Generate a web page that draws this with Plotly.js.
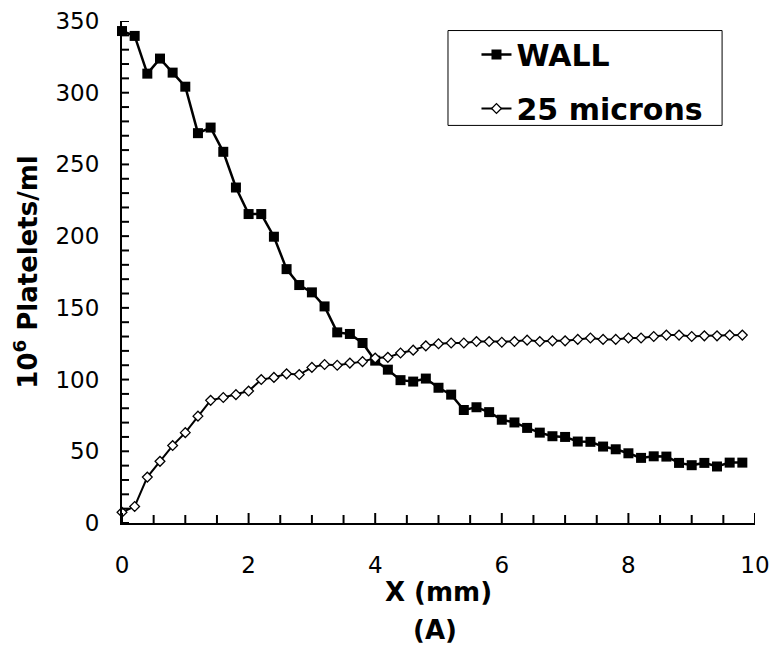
<!DOCTYPE html>
<html>
<head>
<meta charset="utf-8">
<script src="https://cdn.plot.ly/plotly-3.0.1.min.js"></script>
<style>html,body{margin:0;padding:0;background:#fff;}#chart{width:769px;height:646px;}</style>
</head>
<body>
<div id="chart"></div>
<script>
const xPositions = [0,0.2,0.4,0.6,0.8,1.0,1.2,1.4,1.6,1.8,2.0,2.2,2.4,2.6,2.8,3.0,3.2,3.4,3.6,3.8,4.0,4.2,4.4,4.6,4.8,5.0,5.2,5.4,5.6,5.8,6.0,6.2,6.4,6.6,6.8,7.0,7.2,7.4,7.6,7.8,8.0,8.2,8.4,8.6,8.8,9.0,9.2,9.4,9.6,9.8];
const wallValues = [343,339.6,313.3,323.8,314,304.2,271.8,275.7,258.8,233.9,215.4,215.4,199.6,177,165.9,160.8,151,132.9,131.8,125.5,113.2,106.9,99.6,98.6,100.7,94.3,89.5,78.8,80.7,77.3,72,70.1,66.3,63,60.5,60,56.8,56.6,53.3,51.4,48.6,45.4,46.5,46.3,41.9,40.3,41.9,39.4,42.1,42.1];
const micron25Values = [7.5,11.5,32,43,54,63,74.5,85.5,87.5,89.5,92,100,101.5,104,103.5,108.5,110.5,110,111.5,112.5,115,115.5,118.5,120.5,123.5,125,125.5,125.5,126.5,126.5,126,126.5,127.5,126.5,127,127,128,129,128,128,129,129,130,131,131,130,130.5,130.5,131,131];
const seriesNames = ["WALL", "25 microns"];
const xTitle = "X (mm)";
const yTitle = "10<sup>6</sup> Platelets/ml";
const panelLabel = "(A)";
const xRange = [0, 10];
const yRange = [0, 350];

const FONT = "DejaVu Sans, Liberation Sans, Arial, sans-serif";

const W = 769, H = 646, ML = 122, MR = 14, MT = 21, MB = 123;
const plotW = W - ML - MR, plotH = H - MT - MB;

// inside tick marks (axis decoration), every 0.5 on x (longer at labelled ticks) and every 10 on y
const tickShapes = [];
for (let i = 0; i <= 20; i++) {
  const v = i * 0.5;
  const len = (i % 4 === 0) ? 10 : 8;
  tickShapes.push({type: "line", xref: "x", yref: "paper", x0: v, x1: v, y0: 0, y1: len / plotH,
    line: {color: "#000", width: 2}, layer: "above"});
}
for (let i = 0; i <= 35; i++) {
  const v = i * 10;
  tickShapes.push({type: "line", xref: "paper", yref: "y", x0: 0, x1: 7 / plotW, y0: v, y1: v,
    line: {color: "#000", width: 2}, layer: "above"});
}

const traces = [
  {
    x: xPositions, y: wallValues, name: seriesNames[0], type: "scatter", mode: "lines+markers",
    legendgroup: "a",
    line: {color: "#000", width: 2.5},
    marker: {symbol: "square", size: 10, color: "#000"},
    cliponaxis: false, hoverinfo: "skip"
  },
  {
    x: xPositions, y: micron25Values, name: seriesNames[1], type: "scatter", mode: "lines+markers",
    legendgroup: "b",
    line: {color: "#000", width: 2},
    marker: {symbol: "diamond", size: 7.5, color: "#fff", line: {color: "#000", width: 1.3}},
    cliponaxis: false, hoverinfo: "skip"
  }
];

const layout = {
  width: W, height: H,
  margin: {l: ML, r: MR, t: MT, b: MB, autoexpand: false},
  paper_bgcolor: "#fff", plot_bgcolor: "#fff",
  font: {family: FONT, color: "#000", size: 23},
  showlegend: true,
  legend: {
    x: 0.56, xanchor: "left", y: 0.985, yanchor: "top",
    bgcolor: "rgba(0,0,0,0)", borderwidth: 0,
    font: {family: FONT, size: 30, color: "#000", weight: "bold"},
    traceorder: "grouped", tracegroupgap: 12
  },
  shapes: [{
    type: "rect", xref: "paper", yref: "paper",
    x0: 0.515, x1: 0.948, y0: 0.792, y1: 0.981,
    line: {color: "#000", width: 1}, fillcolor: "rgba(0,0,0,0)", layer: "below"
  }].concat(tickShapes),
  xaxis: {
    range: xRange, dtick: 2, tick0: 0,
    showgrid: false, zeroline: false,
    showline: true, linecolor: "#000", linewidth: 2,
    ticks: "",
    ticklabelstandoff: 20, ticklabeloverflow: "allow",
    tickfont: {family: FONT, size: 23, color: "#000"},
    title: {text: xTitle, standoff: 6, font: {family: FONT, size: 26, color: "#000", weight: "bold"}},
    automargin: false, fixedrange: true
  },
  yaxis: {
    range: yRange, dtick: 50, tick0: 0,
    showgrid: false, zeroline: false,
    showline: true, linecolor: "#000", linewidth: 2,
    ticks: "",
    ticklabelstandoff: 16, ticklabeloverflow: "allow",
    tickfont: {family: FONT, size: 23, color: "#000"},
    title: {text: yTitle, standoff: 10, font: {family: FONT, size: 26, color: "#000", weight: "bold"}},
    automargin: false, fixedrange: true
  },
  annotations: [{
    text: panelLabel, xref: "paper", yref: "paper", x: 0.495, y: -0.213,
    xanchor: "center", yanchor: "middle", showarrow: false,
    font: {family: FONT, size: 26, color: "#000", weight: "bold"}
  }]
};

Plotly.newPlot("chart", traces, layout, {displayModeBar: false, staticPlot: true});
</script>
</body>
</html>
